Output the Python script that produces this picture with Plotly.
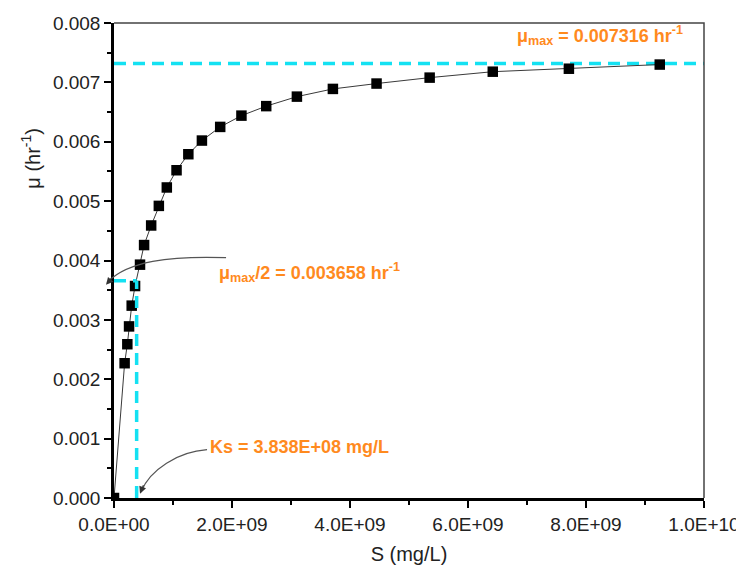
import plotly.graph_objects as go

# ---- data ----
S_mgL = [0, 0.18e9, 0.226e9, 0.255e9, 0.30e9, 0.357e9, 0.441e9, 0.51e9, 0.63e9,
         0.76e9, 0.895e9, 1.06e9, 1.26e9, 1.49e9, 1.80e9, 2.16e9, 2.58e9, 3.10e9,
         3.71e9, 4.45e9, 5.35e9, 6.42e9, 7.71e9, 9.25e9]
mu_hr = [0, 2.27e-3, 2.59e-3, 2.89e-3, 3.24e-3, 3.57e-3, 3.93e-3, 4.26e-3, 4.59e-3,
         4.92e-3, 5.23e-3, 5.52e-3, 5.79e-3, 6.02e-3, 6.25e-3, 6.44e-3, 6.60e-3, 6.76e-3,
         6.89e-3, 6.98e-3, 7.08e-3, 7.18e-3, 7.23e-3, 7.30e-3]
mu_max = 0.007316
Ks = 3.838e8
x_tickvals = [0, 2e9, 4e9, 6e9, 8e9, 1e10]
x_ticktext = ["0.0E+00", "2.0E+09", "4.0E+09", "6.0E+09", "8.0E+09", "1.0E+10"]
y_tickvals = [0, 0.001, 0.002, 0.003, 0.004, 0.005, 0.006, 0.007, 0.008]

ORANGE = "#FF8A1E"
CYAN = "#14E1F2"
FONT = "Liberation Sans, Arial, sans-serif"

fig = go.Figure()
fig.add_trace(go.Scatter(
    x=S_mgL, y=mu_hr, mode="lines+markers",
    line=dict(color="#3a3a3a", width=1),
    marker=dict(symbol="square", size=10.5, color="black"),
    showlegend=False))

# cyan dashed guide lines
dash = "12px,7px"
fig.add_shape(type="line", x0=0, x1=1e10, y0=mu_max, y1=mu_max, xref="x", yref="y",
              line=dict(color=CYAN, width=3.5, dash=dash), layer="below")
fig.add_shape(type="line", x0=Ks, x1=Ks, y0=0, y1=mu_max / 2, xref="x", yref="y",
              line=dict(color=CYAN, width=3.5, dash=dash), layer="above")
fig.add_shape(type="line", x0=0, x1=Ks, y0=mu_max / 2, y1=mu_max / 2, xref="x", yref="y",
              line=dict(color=CYAN, width=3.5, dash=dash), layer="above")

# top/right frame
fig.add_shape(type="path", path="M 0,1 L 1,1 L 1,0", xref="paper", yref="paper",
              line=dict(color="#444444", width=1.5))

# curved arrows (paper coordinates; positions given in window pixels)
def px(X):
    return (X - 114) / 589.7

def py(Y):
    return (498.3 - Y) / 475.0

def path(pts):
    (a, b), (c, d), (e, f), (g, h) = [(px(x), py(y)) for x, y in pts]
    return f"M {a},{b} C {c},{d} {e},{f} {g},{h}"

fig.add_shape(type="path", xref="paper", yref="paper",
              path=path([(226, 258), (168, 256), (128, 262), (108, 282)]),
              line=dict(color="#555555", width=1.2))
fig.add_shape(type="path", xref="paper", yref="paper",
              path=path([(207, 450), (178, 452), (150, 470), (141, 492)]),
              line=dict(color="#555555", width=1.2))
fig.add_annotation(x=px(106), y=py(285), xref="paper", yref="paper", text="",
                   showarrow=True, arrowhead=2, arrowsize=1.2, arrowwidth=1.2,
                   arrowcolor="#333333", ax=7, ay=-8)
fig.add_annotation(x=px(140), y=py(494), xref="paper", yref="paper", text="",
                   showarrow=True, arrowhead=2, arrowsize=1.2, arrowwidth=1.2,
                   arrowcolor="#333333", ax=4, ay=-10)

# orange labels
lab_font = dict(family=FONT, size=18, color=ORANGE)
fig.add_annotation(x=px(600), y=py(36), xref="paper", yref="paper",
                   text="<b>μ<sub>max</sub> = 0.007316 hr<sup>-1</sup></b>",
                   showarrow=False, font=lab_font, xanchor="center", yanchor="middle")
fig.add_annotation(x=px(217), y=py(273), xref="paper", yref="paper",
                   text="<b>μ<sub>max</sub>/2 = 0.003658 hr<sup>-1</sup></b>",
                   showarrow=False, font=lab_font, xanchor="left", yanchor="middle")
fig.add_annotation(x=px(208), y=py(447), xref="paper", yref="paper",
                   text="<b>Ks = 3.838E+08 mg/L</b>",
                   showarrow=False, font=lab_font, xanchor="left", yanchor="middle")

# y axis title (placed as in the reference, above centre)
fig.add_annotation(x=px(31), y=py(158), xref="paper", yref="paper",
                   text="μ (hr<sup>-1</sup>)", textangle=-90, showarrow=False,
                   font=dict(family=FONT, size=20, color="#222222"),
                   xanchor="center", yanchor="middle")

axis_common = dict(showgrid=False, zeroline=False, showline=True, linecolor="black",
                   linewidth=2.5, ticks="outside", ticklen=7, tickwidth=2,
                   tickcolor="black",
                   tickfont=dict(family=FONT, size=19, color="#222222"))

fig.update_xaxes(range=[0, 1e10], tickvals=x_tickvals, ticktext=x_ticktext,
                 minor=dict(ticks="outside", ticklen=4, tickwidth=2, tickcolor="black",
                            dtick=1e9, tick0=0),
                 title=dict(text="S (mg/L)", font=dict(family=FONT, size=20, color="#222222"),
                            standoff=14),
                 **axis_common)
fig.update_yaxes(range=[0, 0.008], tickvals=y_tickvals, tickformat=".3f",
                 minor=dict(ticks="outside", ticklen=4, tickwidth=2, tickcolor="black",
                            dtick=0.0005, tick0=0),
                 **axis_common)

# the page body adds an 8px margin, so the figure is 8px smaller and margins shifted
fig.update_layout(width=736, height=564,
                  margin=dict(l=106, r=40, t=15, b=74, autoexpand=False),
                  plot_bgcolor="white", paper_bgcolor="white",
                  font=dict(family=FONT))

fig.write_html("out.html")
